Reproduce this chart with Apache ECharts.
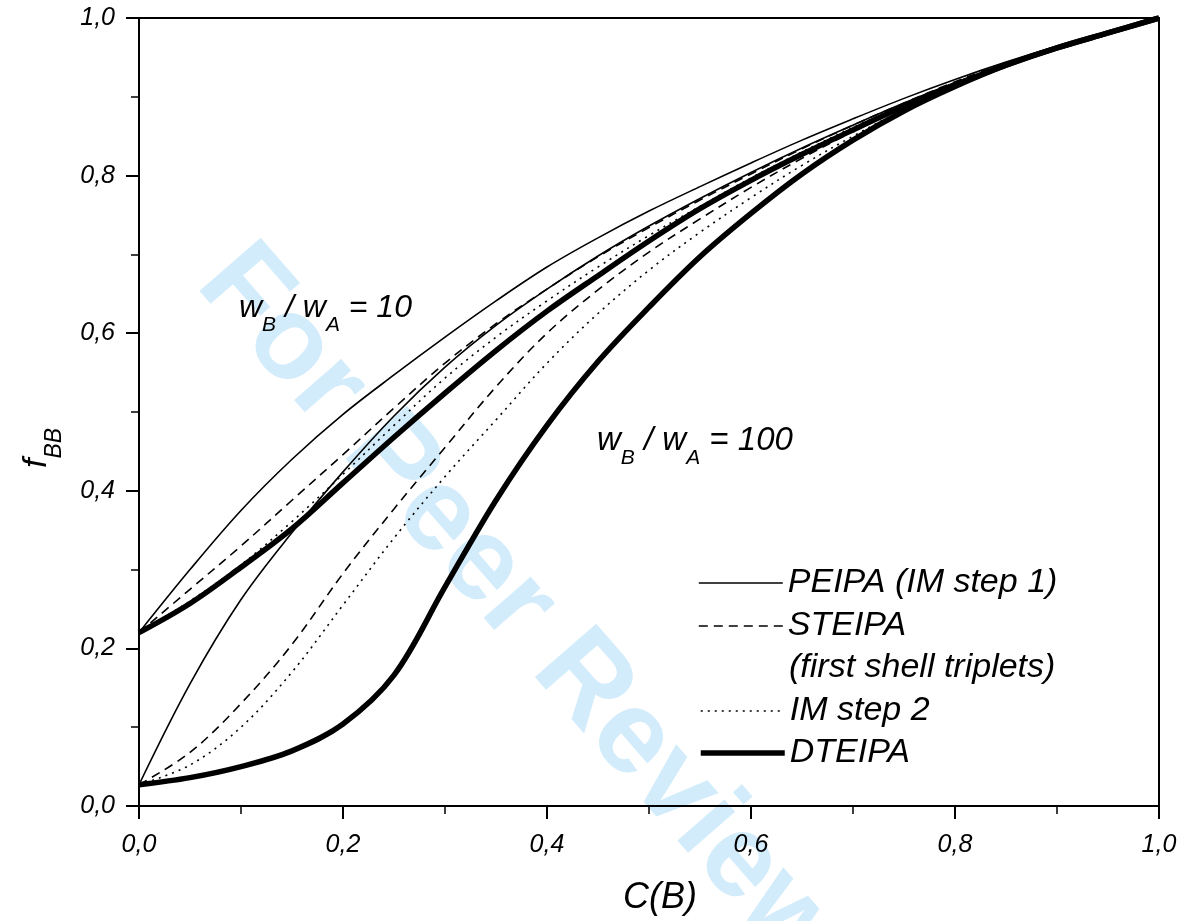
<!DOCTYPE html>
<html>
<head>
<meta charset="utf-8">
<script src="https://cdn.jsdelivr.net/npm/echarts@6/dist/echarts.min.js"></script>
<style>
html,body{margin:0;padding:0;background:#fff;}
#chart{width:1182px;height:921px;}
</style>
</head>
<body>
<div id="chart"></div>
<script>
// ---- data ----
var xValues = [0, 0.05, 0.1, 0.15, 0.2, 0.25, 0.3, 0.35, 0.4, 0.45, 0.5, 0.55, 0.6, 0.65, 0.7, 0.75, 0.8, 0.85, 0.9, 0.95, 1.0];
// w_B / w_A = 10
var peipa10   = [0.22, 0.300, 0.375, 0.440, 0.497, 0.547, 0.595, 0.641, 0.684, 0.721, 0.755, 0.786, 0.816, 0.845, 0.872, 0.898, 0.922, 0.944, 0.964, 0.982, 1.0];
var steipa10  = [0.22, 0.275, 0.330, 0.388, 0.446, 0.505, 0.562, 0.612, 0.656, 0.697, 0.734, 0.769, 0.802, 0.834, 0.864, 0.892, 0.919, 0.943, 0.963, 0.982, 1.0];
var im2_10    = [0.22, 0.260, 0.306, 0.361, 0.421, 0.483, 0.543, 0.595, 0.641, 0.684, 0.724, 0.761, 0.797, 0.830, 0.861, 0.890, 0.917, 0.941, 0.962, 0.981, 1.0];
var dteipa10  = [0.22, 0.257, 0.303, 0.352, 0.410, 0.468, 0.524, 0.578, 0.628, 0.673, 0.717, 0.758, 0.794, 0.827, 0.858, 0.888, 0.915, 0.940, 0.962, 0.981, 1.0];
// w_B / w_A = 100
var peipa100  = [0.027, 0.155, 0.262, 0.347, 0.424, 0.495, 0.557, 0.610, 0.656, 0.698, 0.736, 0.771, 0.804, 0.835, 0.864, 0.892, 0.918, 0.942, 0.963, 0.982, 1.0];
var steipa100 = [0.027, 0.068, 0.130, 0.205, 0.295, 0.377, 0.455, 0.532, 0.600, 0.655, 0.703, 0.745, 0.785, 0.822, 0.856, 0.888, 0.916, 0.942, 0.963, 0.982, 1.0];
var im2_100   = [0.027, 0.052, 0.100, 0.170, 0.255, 0.340, 0.418, 0.490, 0.562, 0.625, 0.680, 0.728, 0.772, 0.813, 0.850, 0.884, 0.913, 0.940, 0.962, 0.981, 1.0];
var dteipa100 = [0.027, 0.036, 0.050, 0.070, 0.104, 0.166, 0.278, 0.388, 0.483, 0.564, 0.633, 0.697, 0.752, 0.802, 0.845, 0.882, 0.913, 0.940, 0.962, 0.981, 1.0];

var nameP = 'PEIPA (IM step 1)';
var nameS = 'STEIPA';
var nameI = 'IM step 2';
var nameD = 'DTEIPA';

function pairs(ys){ return xValues.map(function(x,i){ return [x, ys[i]]; }); }

var FONT = '"Liberation Sans", Arial, sans-serif';
var styles = {};
styles[nameP] = {width: 1.6, type: 'solid'};
styles[nameS] = {width: 1.6, type: [9, 6]};
styles[nameI] = {width: 1.6, type: [2, 5]};
styles[nameD] = {width: 5.5, type: 'solid'};

function mk(name, ys){
  return {
    name: name, type: 'line', data: pairs(ys), symbol: 'none', showSymbol: false,
    smooth: 0.35,
    lineStyle: {color: '#000', width: styles[name].width, type: styles[name].type, cap: 'butt'},
    itemStyle: {color: '#000'},
    z: name === nameD ? 4 : 3, silent: true, animation: false
  };
}

var fmt = function(v){ return v.toFixed(1).replace('.', ','); };

var chart = echarts.init(document.getElementById('chart'), null, {renderer: 'canvas'});
var legendText = {fontFamily: FONT, fontStyle: 'italic', fontSize: 34, color: '#000'};
function legItem(n){ return {name: n, itemStyle: {opacity: 0}, lineStyle: {width: styles[n].width, type: styles[n].type, color: '#000'}}; }
var subRich = function(big, small){
  return {
    n: {fontFamily: FONT, fontStyle: 'italic', fontSize: big, lineHeight: big + 12, verticalAlign: 'top', color: '#000'},
    s: {fontFamily: FONT, fontStyle: 'italic', fontSize: small, lineHeight: big + 12, verticalAlign: 'bottom', color: '#000'}
  };
};

chart.setOption({
  animation: false,
  backgroundColor: '#fff',
  grid: {left: 139, right: 23, top: 18, bottom: 113, show: true, borderColor: '#000', borderWidth: 2, backgroundColor: 'transparent'},
  xAxis: {
    type: 'value', min: 0, max: 1, interval: 0.2,
    axisLine: {show: true, lineStyle: {color: '#000', width: 2}},
    axisTick: {show: true, length: 13, lineStyle: {color: '#000', width: 2}},
    minorTick: {show: true, splitNumber: 2, length: 8, lineStyle: {color: '#000', width: 1.5}},
    splitLine: {show: false},
    axisLabel: {formatter: fmt, fontFamily: FONT, fontStyle: 'italic', fontSize: 25, color: '#000', margin: 27},
    name: 'C(B)', nameLocation: 'middle', nameGap: 74,
    nameTextStyle: {fontFamily: FONT, fontStyle: 'italic', fontSize: 36, color: '#000', padding: [0, 0, 0, 22]}
  },
  yAxis: {
    type: 'value', min: 0, max: 1, interval: 0.2,
    axisLine: {show: true, lineStyle: {color: '#000', width: 2}},
    axisTick: {show: true, length: 13, lineStyle: {color: '#000', width: 2}},
    minorTick: {show: true, splitNumber: 2, length: 8, lineStyle: {color: '#000', width: 1.5}},
    splitLine: {show: false},
    axisLabel: {formatter: fmt, fontFamily: FONT, fontStyle: 'italic', fontSize: 25, color: '#000', margin: 24}
  },
  legend: [
    {orient: 'vertical', left: 693, top: 561, itemWidth: 84, itemHeight: 14, itemGap: 9,
     textStyle: legendText, data: [legItem(nameP), legItem(nameS)], selectedMode: false},
    {orient: 'vertical', left: 693, top: 689, itemWidth: 84, itemHeight: 14, itemGap: 8,
     textStyle: legendText, data: [legItem(nameI), legItem(nameD)], selectedMode: false}
  ],
  graphic: [
    {type: 'text', z: -10, silent: true,
     position: [520, 610], rotation: -0.855,
     style: {text: 'For Peer Review', x: 0, y: 0, align: 'center', verticalAlign: 'middle',
             font: 'bold 118px ' + FONT, fill: 'rgba(140,205,245,0.38)'}},
    {type: 'text', left: 789, top: 651, silent: true,
     style: {text: '(first shell triplets)', font: 'italic 34px ' + FONT, fill: '#000'}},
    {type: 'text', left: 239, top: 292, silent: true,
     style: {text: '{n|w}{s|B}{n| / w}{s|A}{n| = 10}', rich: subRich(32, 21)}},
    {type: 'text', left: 597, top: 424, silent: true,
     style: {text: '{n|w}{s|B}{n| / w}{s|A}{n| = 100}', rich: subRich(33, 21)}},
    {type: 'text', silent: true, position: [20, 448], rotation: Math.PI/2,
     style: {text: '{n|f}{s|BB}', x: 0, y: 0, align: 'center', rich: subRich(34, 23)}}
  ],
  series: [
    mk(nameP, peipa10), mk(nameS, steipa10), mk(nameI, im2_10), mk(nameD, dteipa10),
    mk(nameP, peipa100), mk(nameS, steipa100), mk(nameI, im2_100), mk(nameD, dteipa100)
  ]
});
</script>
</body>
</html>
